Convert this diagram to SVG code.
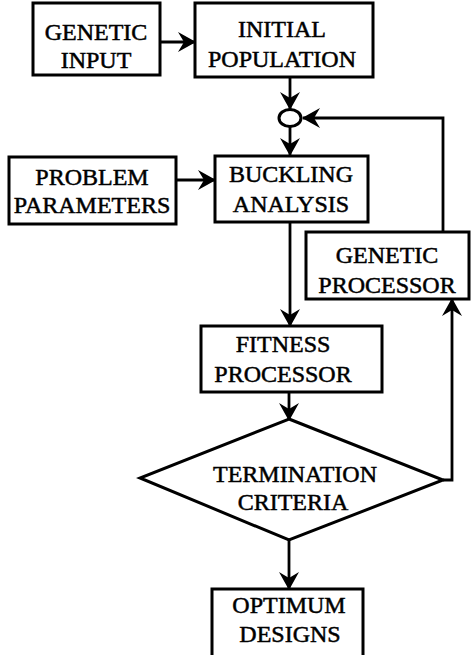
<svg xmlns="http://www.w3.org/2000/svg" width="471" height="655" viewBox="0 0 471 655">
<style>
.box{fill:#fff;stroke:#000;stroke-width:3}
.ln{fill:none;stroke:#000;stroke-width:2.8}
text{font-family:"Liberation Serif","Times New Roman",serif;font-size:24px;fill:#000;stroke:#000;stroke-width:0.5;text-anchor:middle}
</style>
<defs>
<marker id="ah" markerUnits="userSpaceOnUse" markerWidth="18" markerHeight="20" viewBox="0 0 18 20" refX="17" refY="10" orient="auto">
<path d="M0,0 L18,10 L0,20 L6,10 z" fill="#000"/>
</marker>
</defs>
<rect width="471" height="655" fill="#fff"/>
<g id="connectors">
<line class="ln" x1="160" y1="42" x2="195" y2="42" marker-end="url(#ah)"/>
<line class="ln" x1="290" y1="77" x2="290" y2="109" marker-end="url(#ah)"/>
<line class="ln" x1="290" y1="127" x2="290" y2="155" marker-end="url(#ah)"/>
<line class="ln" x1="176" y1="180" x2="215" y2="180" marker-end="url(#ah)"/>
<polyline class="ln" points="443,232 443,118 303,118" marker-end="url(#ah)"/>
<line class="ln" x1="290" y1="222" x2="290" y2="326" marker-end="url(#ah)"/>
<line class="ln" x1="289" y1="392" x2="289" y2="420" marker-end="url(#ah)"/>
<polyline class="ln" points="443,480 452,480 452,299" marker-end="url(#ah)"/>
<line class="ln" x1="289" y1="540" x2="289" y2="589" marker-end="url(#ah)"/>
</g>
<g id="genetic-input">
<rect class="box" x="33" y="3" width="127" height="72"/>
<text x="96" y="40">GENETIC</text>
<text x="96" y="68">INPUT</text>
</g>
<g id="initial-population">
<rect class="box" x="195" y="3" width="178" height="74"/>
<text x="282" y="37">INITIAL</text>
<text x="282" y="67">POPULATION</text>
</g>
<g id="junction">
<ellipse cx="290" cy="118" rx="11" ry="8.5" fill="#fff" stroke="#000" stroke-width="3"/>
</g>
<g id="problem-parameters">
<rect class="box" x="9" y="157" width="167" height="67"/>
<text x="92" y="185">PROBLEM</text>
<text x="92" y="213">PARAMETERS</text>
</g>
<g id="buckling-analysis">
<rect class="box" x="215" y="156" width="153" height="66"/>
<text x="291" y="182">BUCKLING</text>
<text x="291" y="212">ANALYSIS</text>
</g>
<g id="genetic-processor">
<rect class="box" x="306" y="232" width="163" height="67"/>
<text x="387" y="263">GENETIC</text>
<text x="387" y="293">PROCESSOR</text>
</g>
<g id="fitness-processor">
<rect class="box" x="201" y="326" width="181" height="66"/>
<text x="283" y="352">FITNESS</text>
<text x="283" y="382">PROCESSOR</text>
</g>
<g id="termination-criteria">
<polygon class="box" points="289,419 443,480 289,540 140,478"/>
<text x="295" y="482">TERMINATION</text>
<text x="293" y="510">CRITERIA</text>
</g>
<g id="optimum-designs">
<rect class="box" x="212" y="589" width="151" height="75"/>
<text x="289" y="613">OPTIMUM</text>
<text x="290" y="642">DESIGNS</text>
</g>
</svg>
